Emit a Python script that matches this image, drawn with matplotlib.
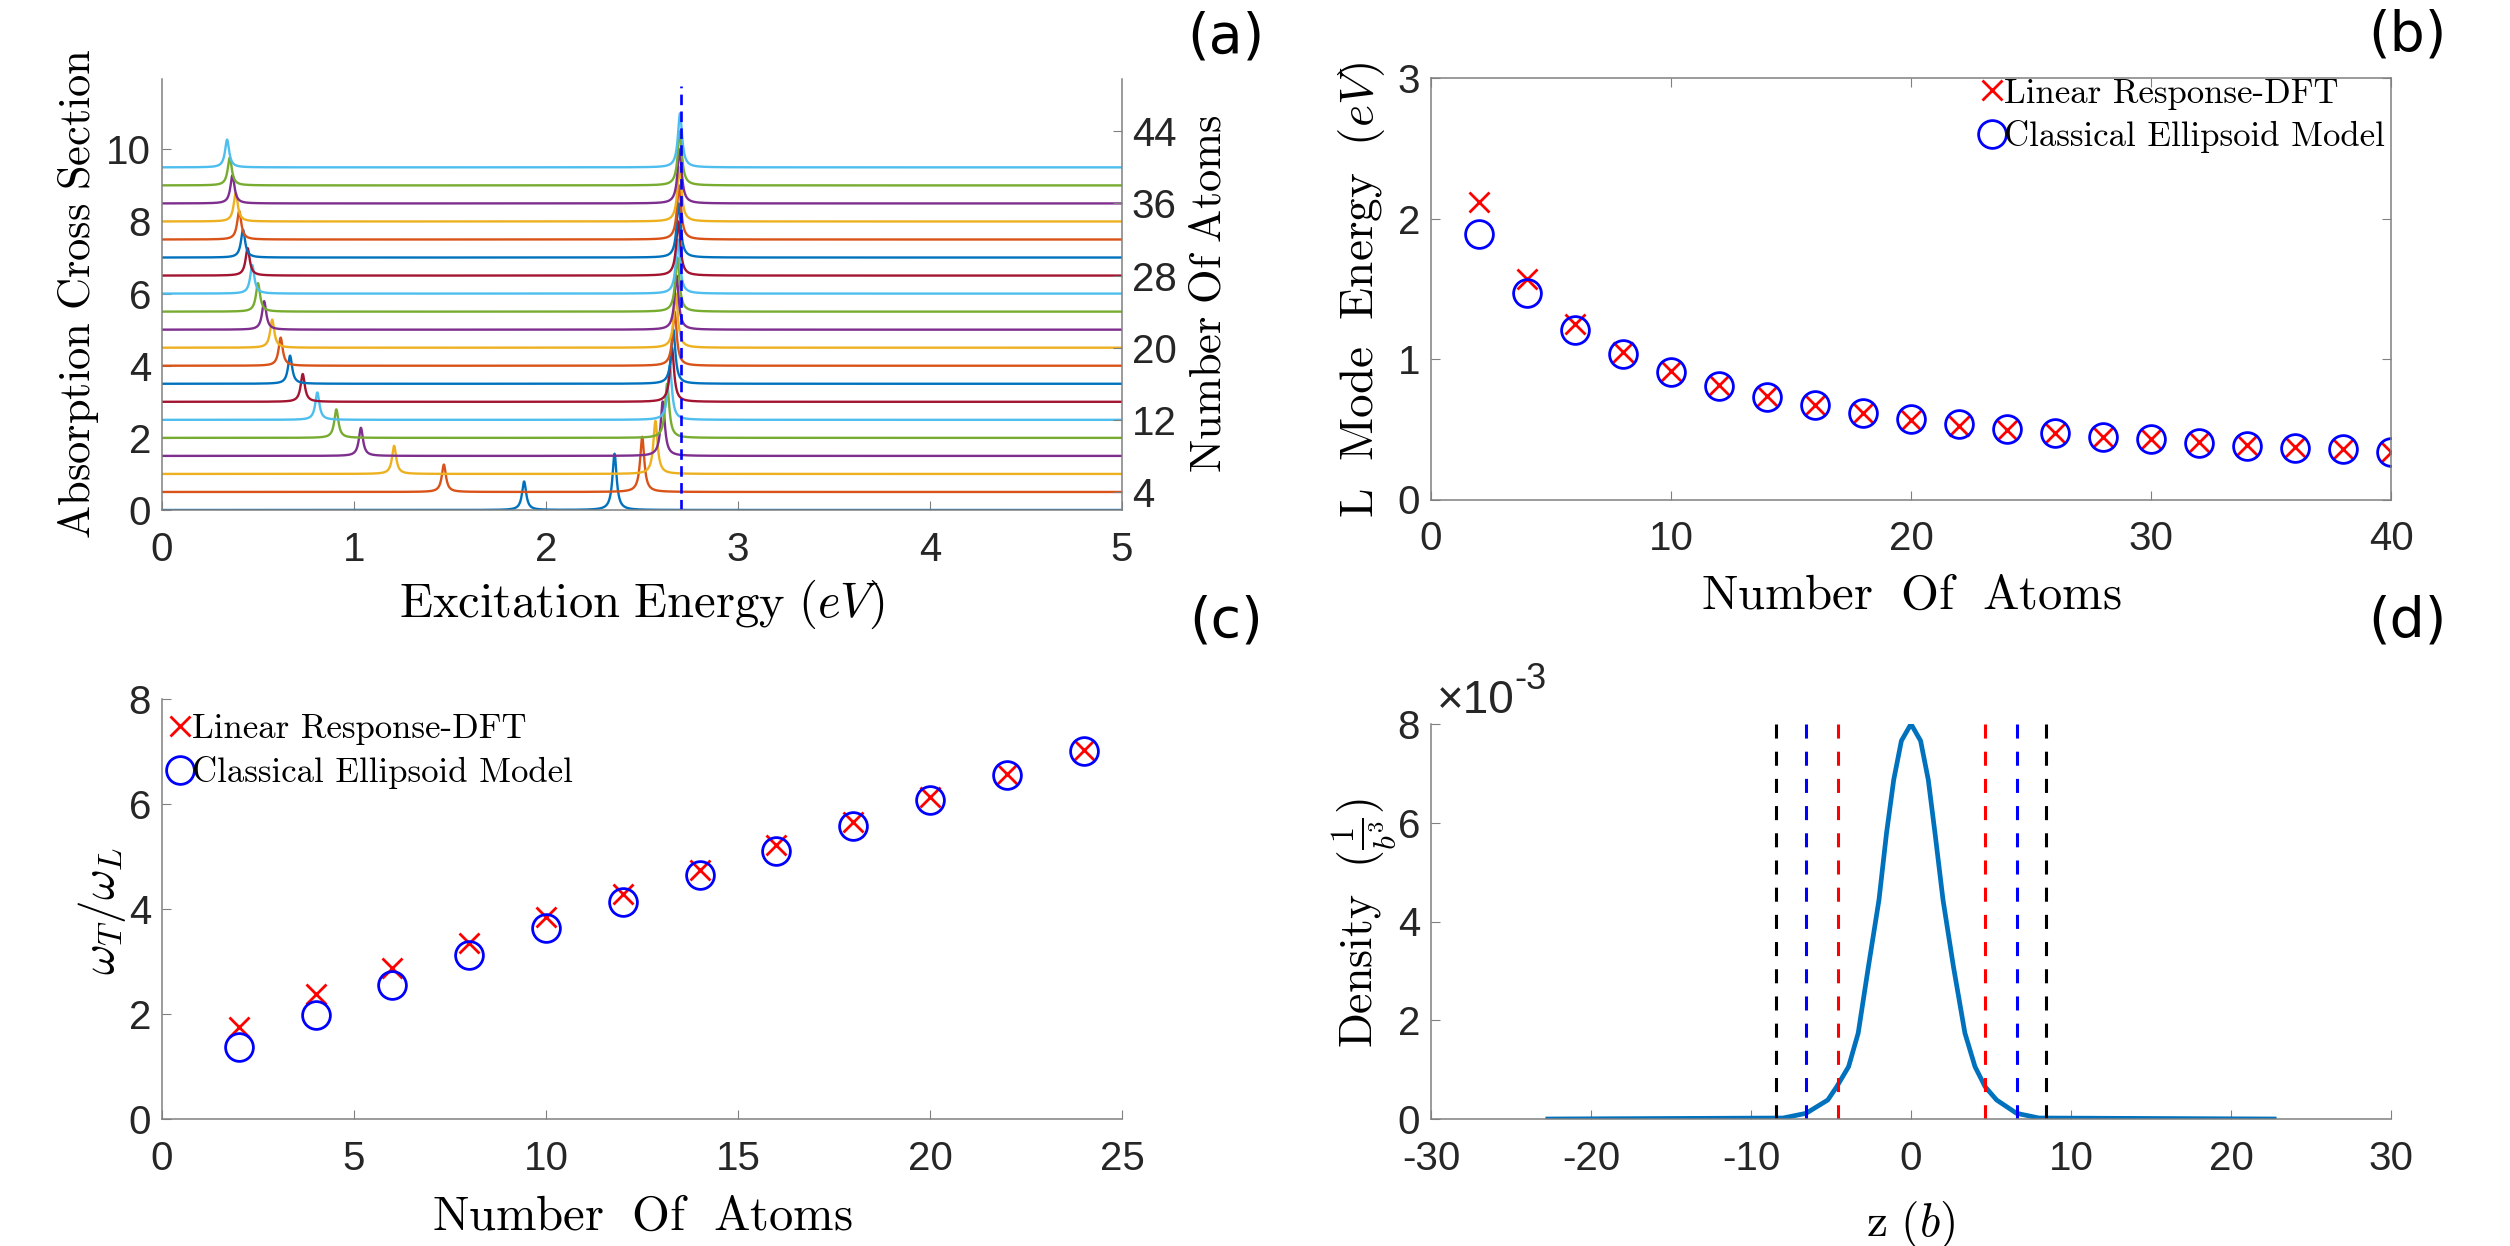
import numpy as np
import matplotlib
matplotlib.use('Agg')
import matplotlib.pyplot as plt

plt.rcParams['font.family'] = 'Liberation Sans'
plt.rcParams['mathtext.fontset'] = 'cm'
plt.rcParams['axes.unicode_minus'] = False

# (a) absorption spectra, one curve per cluster size (peaks)
n_atoms_a = [2, 4, 6, 8, 10, 12, 14, 16, 18, 20, 22, 24, 26, 28, 30, 32, 34, 36, 38, 40]
low_peak_ev = [1.886, 1.468, 1.209, 1.036, 0.908, 0.809, 0.733, 0.667, 0.618, 0.574,
               0.532, 0.500, 0.470, 0.446, 0.422, 0.402, 0.384, 0.367, 0.353, 0.339]
high_peak_ev = [2.357, 2.501, 2.570, 2.608, 2.631, 2.645, 2.656, 2.663, 2.670, 2.676,
                2.680, 2.684, 2.687, 2.689, 2.691, 2.693, 2.695, 2.696, 2.697, 2.698]
low_peak_height = [0.79, 0.76, 0.78, 0.78, 0.79, 0.76, 0.77, 0.78, 0.78, 0.78,
                   0.79, 0.79, 0.79, 0.76, 0.77, 0.79, 0.79, 0.78, 0.77, 0.77]
high_peak_height = [1.56, 1.53, 1.47, 1.51, 1.50, 1.50, 1.50, 1.50, 1.50, 1.50,
                    1.50, 1.50, 1.50, 1.50, 1.50, 1.50, 1.50, 1.50, 1.50, 1.50]
peak_halfwidth_ev = 0.013
bulk_line_ev = 2.705
bulk_line_top = 11.75

# (b) longitudinal mode energy
n_atoms_b = [2, 4, 6, 8, 10, 12, 14, 16, 18, 20, 22, 24, 26, 28, 30, 32, 34, 36, 38, 40]
lmode_dft = [2.118, 1.572, 1.248, 1.047, 0.914, 0.817, 0.737, 0.673, 0.619, 0.569,
             0.525, 0.496, 0.472, 0.448, 0.428, 0.407, 0.389, 0.372, 0.357, 0.339]
lmode_ellipsoid = [1.888, 1.469, 1.209, 1.038, 0.909, 0.811, 0.729, 0.670, 0.619, 0.575,
                   0.537, 0.501, 0.475, 0.448, 0.428, 0.404, 0.383, 0.369, 0.357, 0.339]

# (c) transverse / longitudinal ratio
n_atoms_c = [2, 4, 6, 8, 10, 12, 14, 16, 18, 20, 22, 24]
ratio_dft = [1.76, 2.38, 2.87, 3.36, 3.84, 4.29, 4.75, 5.21, 5.66, 6.13, 6.57, 7.02]
ratio_ellipsoid = [1.37, 1.99, 2.56, 3.12, 3.63, 4.14, 4.64, 5.11, 5.59, 6.08, 6.55, 7.01]

# (d) density profile along z
z_b = [-22.7, -8.0, -6.56, -5.2, -4.64, -3.9, -3.3, -2.66, -2.0, -1.53, -1.08, -0.6, 0.0,
       0.6, 1.08, 1.5, 2.0, 2.65, 3.37, 4.0, 4.63, 5.35, 6.6, 8.0, 22.7]
density = [0.0, 0.00002, 0.000115, 0.000385, 0.000655, 0.00106, 0.00174, 0.00309, 0.00444,
           0.00579, 0.00687, 0.00766, 0.0080,
           0.00766, 0.00687, 0.00579, 0.00444, 0.00309, 0.00174, 0.00106, 0.000655,
           0.000385, 0.000115, 0.00002, 0.0]
edge_black = [-8.45, 8.45]
edge_blue = [-6.58, 6.62]
edge_red = [-4.58, 4.62]

matlab_colors = ['#0072BD', '#D95319', '#EDB120', '#7E2F8E', '#77AC30', '#4DBEEE', '#A2142F']
spine_gray = '#808080'
text_dark = '#262626'
tick_fs = 29
legend_fs = 25

fig = plt.figure(figsize=(25.1, 12.46), dpi=100)
W, H = 2510.0, 1246.0


def add_axes_px(left, right, top, bottom):
    return fig.add_axes([left / W, 1 - bottom / H, (right - left) / W, (bottom - top) / H])


def style(ax, box=False):
    for s in ax.spines.values():
        s.set_color(spine_gray)
        s.set_linewidth(1.1)
    if not box:
        ax.spines['top'].set_visible(False)
        ax.spines['right'].set_visible(False)
    ax.tick_params(direction='in', length=6.5, width=0.8, color=spine_gray,
                   labelsize=tick_fs, labelcolor=text_dark, top=box, right=box)
    ax.tick_params(axis='x', pad=15)
    ax.tick_params(axis='y', pad=8)


legend_kw = dict(frameon=False, handlelength=0.6, handletextpad=0.05, labelspacing=0.3,
                 borderpad=0, borderaxespad=0, prop={'family': 'cmr10', 'size': legend_fs})

# ---------------- (a) ----------------
ax_a = add_axes_px(162, 1122, 79, 510)
style(ax_a)
energy = np.linspace(0, 5, 5001)
g2 = peak_halfwidth_ev ** 2
for i, n in enumerate(n_atoms_a):
    offset = 0.25 * n - 0.5
    spec = (low_peak_height[i] * g2 / ((energy - low_peak_ev[i]) ** 2 + g2)
            + high_peak_height[i] * g2 / ((energy - high_peak_ev[i]) ** 2 + g2))
    ax_a.plot(energy, offset + spec, color=matlab_colors[i % 7], lw=1.7)
ax_a.plot([bulk_line_ev, bulk_line_ev], [0, bulk_line_top], color='b', lw=1.9,
          dashes=(4, 2.4))
ax_a.set_xlim(0, 5)
ax_a.set_ylim(0, 11.95)
ax_a.set_xticks([0, 1, 2, 3, 4, 5])
ax_a.set_yticks([0, 2, 4, 6, 8, 10])
ax_a.set_xlabel(r'$\mathrm{Excitation\ Energy}\ (eV)$', fontsize=35)
ax_a.set_ylabel(r'$\mathrm{Absorption\ Cross\ Section}$', fontsize=32)
ax_a.xaxis.set_label_coords(0.5, -0.158)
ax_a.yaxis.set_label_coords(-0.064, 0.503)

ax_a2 = ax_a.twinx()
for s in ax_a2.spines.values():
    s.set_visible(False)
ax_a2.spines['right'].set_visible(True)
ax_a2.spines['right'].set_color(spine_gray)
ax_a2.spines['right'].set_linewidth(1.1)
ax_a2.set_ylim(2, 2 + 4 * 11.95)
ax_a2.set_yticks([4, 12, 20, 28, 36, 44])
ax_a2.tick_params(direction='in', length=6.5, width=0.8, color=spine_gray,
                  labelsize=tick_fs, labelcolor=text_dark, pad=7)
ax_a2.set_ylabel(r'$\mathrm{Number\ Of\ Atoms}$', fontsize=32)
ax_a2.yaxis.set_label_coords(1.069, 0.503)

# ---------------- (b) ----------------
ax_b = add_axes_px(1431, 2391, 78, 499.5)
style(ax_b, box=True)
ax_b.plot(n_atoms_b, lmode_dft, ls='none', marker='x', ms=15, mew=2.0, color='r',
          label='Linear Response-DFT')
ax_b.plot(n_atoms_b, lmode_ellipsoid, ls='none', marker='o', ms=20, mew=2.0, mfc='none',
          color='b', label='Classical Ellipsoid Model')
ax_b.set_xlim(0, 40)
ax_b.set_ylim(0, 3)
ax_b.set_xticks([0, 10, 20, 30, 40])
ax_b.set_yticks([0, 1, 2, 3])
ax_b.set_xlabel(r'$\mathrm{Number\ \ Of\ \ Atoms}$', fontsize=35)
ax_b.set_ylabel(r'$\mathrm{L\ \ Mode\ \ Energy}\ \ (eV)$', fontsize=34)
ax_b.xaxis.set_label_coords(0.5, -0.177)
ax_b.yaxis.set_label_coords(-0.046, 0.497)
ax_b.legend(loc='upper right', bbox_to_anchor=(0.994, 1.0), **legend_kw)

# ---------------- (c) ----------------
ax_c = add_axes_px(162, 1122, 699, 1119)
style(ax_c)
ax_c.plot(n_atoms_c, ratio_dft, ls='none', marker='x', ms=15, mew=2.0, color='r',
          label='Linear Response-DFT')
ax_c.plot(n_atoms_c, ratio_ellipsoid, ls='none', marker='o', ms=20, mew=2.0, mfc='none',
          color='b', label='Classical Ellipsoid Model')
ax_c.set_xlim(0, 25)
ax_c.set_ylim(0, 8)
ax_c.set_xticks([0, 5, 10, 15, 20, 25])
ax_c.set_yticks([0, 2, 4, 6, 8])
ax_c.set_xlabel(r'$\mathrm{Number\ \ Of\ \ Atoms}$', fontsize=35)
ax_c.set_ylabel(r'$\omega_T/\omega_L$', fontsize=34)
ax_c.xaxis.set_label_coords(0.5, -0.181)
ax_c.yaxis.set_label_coords(-0.035, 0.495)
ax_c.legend(loc='upper left', bbox_to_anchor=(0.008, 0.965), **legend_kw)

# ---------------- (d) ----------------
ax_d = add_axes_px(1431, 2391, 724, 1119)
style(ax_d)
dens_scaled = np.array(density) * 1e3
ax_d.plot(z_b, dens_scaled, color='#0072BD', lw=3.4)
for xs, c in [(edge_black, 'k'), (edge_blue, 'b'), (edge_red, 'r')]:
    for xv in xs:
        ax_d.plot([xv, xv], [8, 0], color=c, lw=2.2, dashes=(4.6, 4.3))
ax_d.set_xlim(-30, 30)
ax_d.set_ylim(0, 8)
ax_d.set_xticks([-30, -20, -10, 0, 10, 20, 30])
ax_d.set_yticks([0, 2, 4, 6, 8])
ax_d.set_xlabel(r'$\mathrm{z}\ (b)$', fontsize=34)
ax_d.set_ylabel(r'$\mathrm{Density}\ \ (\frac{1}{b^3})$', fontsize=33)
ax_d.xaxis.set_label_coords(0.5, -0.203)
ax_d.yaxis.set_label_coords(-0.033, 0.496)
t_exp = ax_d.text(0.006, 1.028, '\u00d710', transform=ax_d.transAxes, fontsize=33,
                  color=text_dark, ha='left', va='baseline')
ax_d.annotate('-3', xy=(1.0, 0.6), xycoords=t_exp, fontsize=26, color=text_dark,
              ha='left', va='bottom')

# panel tags
for tag, x, y in [('(a)', 1226, 37), ('(b)', 2407, 35), ('(c)', 1226, 621), ('(d)', 2407, 621)]:
    fig.text(x / W, 1 - y / H, tag, fontsize=40, family='DejaVu Sans', ha='center', va='center')

fig.savefig('out.png', dpi=100)
